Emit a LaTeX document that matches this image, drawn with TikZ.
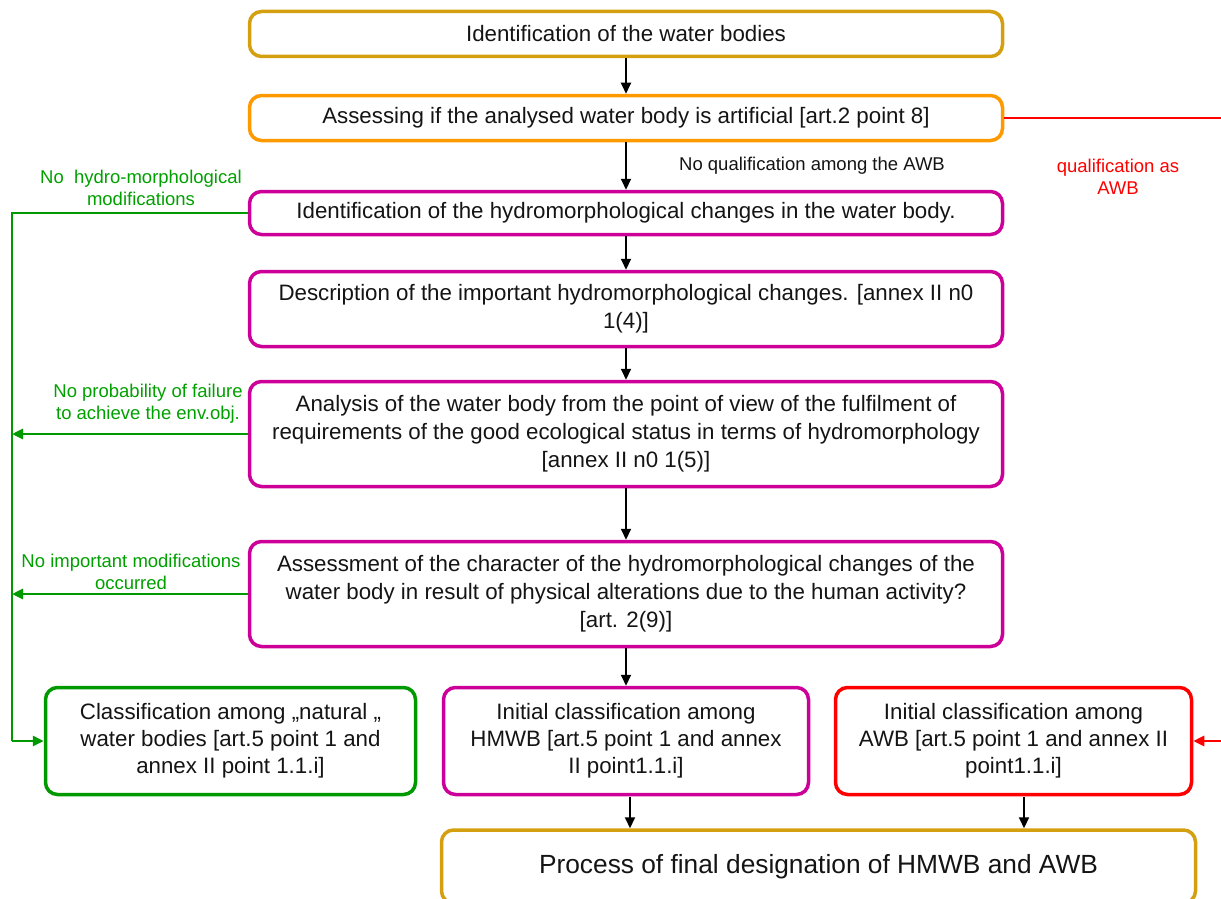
\documentclass[tikz,border=0pt]{standalone}
\usepackage{fontspec}
\setmainfont{Liberation Sans}
\usetikzlibrary{arrows.meta}
\definecolor{gold}{RGB}{212,160,16}
\definecolor{orng}{RGB}{255,153,0}
\definecolor{mag}{RGB}{204,0,153}
\definecolor{grn}{RGB}{0,153,0}
\definecolor{lgrn}{RGB}{0,160,0}
\definecolor{rd}{RGB}{255,0,0}
\definecolor{txt}{RGB}{20,20,20}
\tikzset{
  stage/.style={draw, line width=3.5pt, rounded corners=12pt, align=center,
    text=txt, font=\fontsize{22.3}{28}\selectfont, inner sep=0pt},
  flow/.style={draw=black, line width=2pt, -{Triangle[length=11pt,width=10pt]}},
  nolink/.style={draw=grn, line width=2.8pt, -{Triangle[length=11pt,width=10pt]}},
  awblink/.style={draw=rd, line width=2.8pt},
  lbl/.style={align=center, font=\fontsize{18.5}{22}\selectfont, inner sep=0pt},
}
\begin{document}
\begin{tikzpicture}[x=1pt,y=-1pt]
\useasboundingbox (0,0) rectangle (1221,899);

% main column
\node[stage, draw=gold, minimum width=753pt, minimum height=45pt] (b1) at (626,34)
  {Identification of the water bodies};
\node[stage, draw=orng, minimum width=753pt, minimum height=45pt] (b2) at (626,118)
  {Assessing if the analysed water body is artificial [art.2 point 8]};
\node[stage, draw=mag, minimum width=753pt, minimum height=43pt] (b3) at (626,213)
  {Identification of the hydromorphological changes in the water body.};
\node[stage, draw=mag, minimum width=753pt, minimum height=75pt] (b4) at (626,309)
  {Description of the important hydromorphological changes. [annex II n0\\{}1(4)]};
\node[stage, draw=mag, minimum width=753pt, minimum height=105pt] (b5) at (626,434)
  {Analysis of the water body from the point of view of the fulfilment of\\{}%
   requirements of the good ecological status in terms of hydromorphology\\{}%
   [annex II n0 1(5)]};
\node[stage, draw=mag, minimum width=753pt, minimum height=105pt] (b6) at (626,594)
  {Assessment of the character of the hydromorphological changes of the\\{}%
   water body in result of physical alterations due to the human activity?\\{}%
   [art. 2(9)]};

% classification row
\tikzset{classbox/.style={stage, minimum height=107pt, text depth=6pt,
  font=\fontsize{22.3}{27}\selectfont}}
\node[classbox, draw=grn, minimum width=370pt] (c1) at (230.5,741)
  {Classification among „natural „\\{}water bodies [art.5 point 1 and\\{}annex II point 1.1.i]};
\node[classbox, draw=mag, minimum width=365pt] (c2) at (626,741)
  {Initial classification among\\{}HMWB [art.5 point 1 and annex\\{}II point1.1.i]};
\node[classbox, draw=rd, minimum width=356pt] (c3) at (1013.5,741)
  {Initial classification among\\{}AWB [art.5 point 1 and annex II\\{}point1.1.i]};

% final step
\node[stage, draw=gold, minimum width=754pt, minimum height=73pt, font=\fontsize{26.3}{30}\selectfont] (fin) at (818.5,866.5)
  {Process of final designation of HMWB and AWB};

% vertical flow
\draw[flow] (b1) -- (b2);
\draw[flow] (b2) -- (b3);
\draw[flow] (b3) -- (b4);
\draw[flow] (b4) -- (b5);
\draw[flow] (b5) -- (b6);
\draw[flow] (b6) -- (c2);
\coordinate (d1) at (630,797);
\coordinate (d2) at (1024,797);
\draw[flow] (d1) -- (d1 |- fin.north);
\draw[flow] (d2) -- (d2 |- fin.north);

\node[lbl, text=txt] (qna) at (812,166) {No qualification among the AWB};

% artificial branch on the right
\coordinate (rr1) at (1224,118);
\coordinate (rr2) at (1224,741);
\draw[awblink] (b2.east) -- (rr1) -- (rr2);
\draw[awblink, -{Triangle[length=11pt,width=10pt]}] (rr2) -- (c3.east);
\node[lbl, text=rd] (qas) at (1118,177) {qualification as\\{}AWB};

% natural branch on the left
\coordinate (gl1) at (12,213);
\coordinate (gl2) at (12,741);
\coordinate (gl3) at (12,434);
\coordinate (gl4) at (12,594);
\draw[draw=grn, line width=2.8pt] (b3.west) -- (gl1) -- (gl2);
\draw[nolink] (gl2) -- (c1.west);
\draw[nolink] (b5.west) -- (gl3);
\draw[nolink] (b6.west) -- (gl4);

\node[lbl, text=lgrn] (n1) at (141,188) {No\ \ hydro-morphological\\{}modifications};
\node[lbl, text=lgrn] (n2) at (148,404) {No probability of failure\\{}to achieve the env.obj.};
\node[lbl, text=lgrn] (n3) at (131,572) {No important modifications\\{}occurred};
\end{tikzpicture}
\end{document}
